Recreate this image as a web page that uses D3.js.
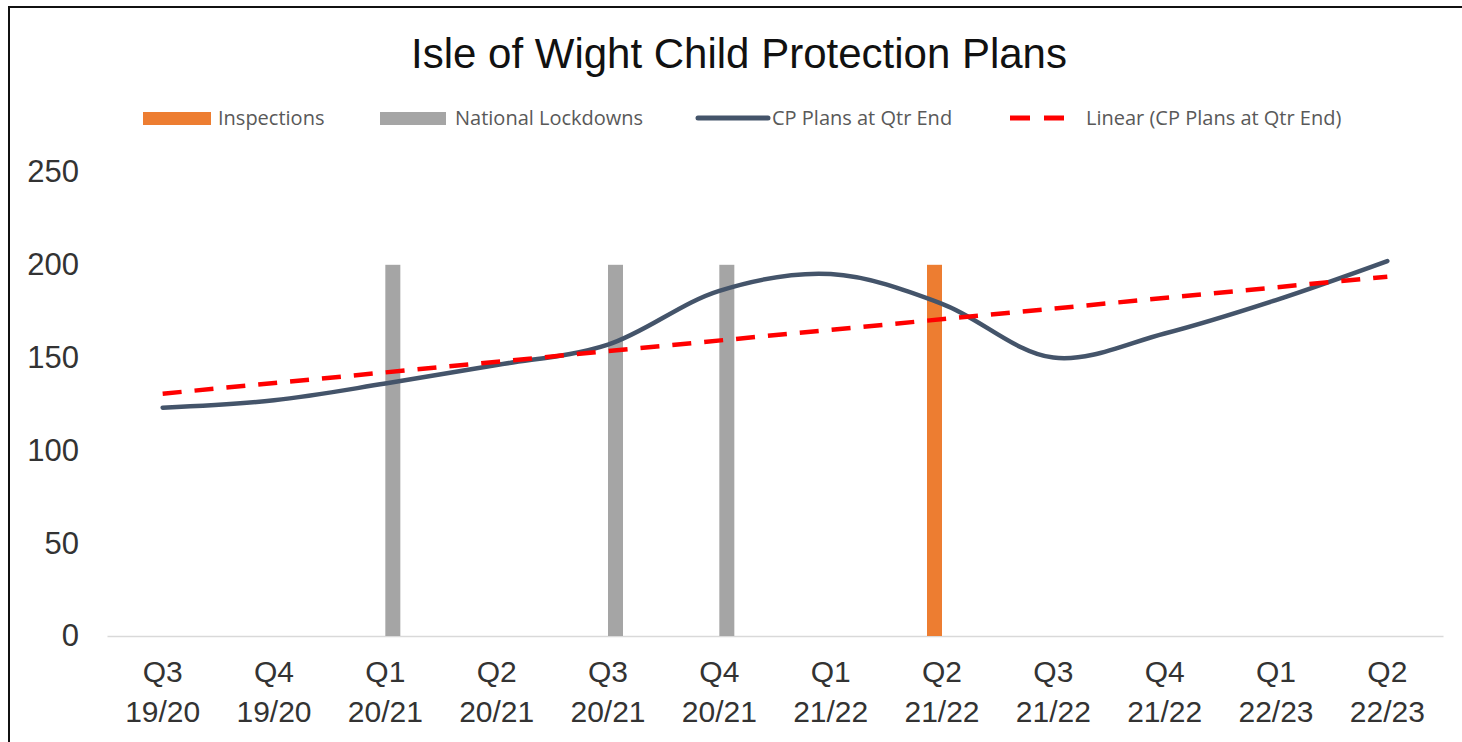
<html>

<head>
  <meta charset="UTF-8">
  <title>Isle of Wight Child Protection Plans</title>
  <script src="https://d3js.org/d3.v7.min.js"></script>
  <style>
    body {
      margin: 0;
      background-color: white;
    }
    svg {
      display: block;
    }
  </style>
</head>

<body>
  <svg></svg>
</body>

<script>
  let width = 1462,
    height = 742;

  // data
  let quarters = ["Q3", "Q4", "Q1", "Q2", "Q3", "Q4", "Q1", "Q2", "Q3", "Q4", "Q1", "Q2"];
  let years = ["19/20", "19/20", "20/21", "20/21", "20/21", "20/21", "21/22", "21/22", "21/22", "21/22", "22/23", "22/23"];
  let cpPlans = [123, 127, 136, 146, 157, 186, 195, 179, 150, 163, 181, 202];
  let inspections = [0, 0, 0, 0, 0, 0, 0, 200, 0, 0, 0, 0];
  let lockdowns = [0, 0, 200, 0, 200, 200, 0, 0, 0, 0, 0, 0];
  let yTicks = [0, 50, 100, 150, 200, 250];

  let categories = quarters.map((q, i) => q + " " + years[i]);

  let svg = d3.select("svg")
    .attr("width", width)
    .attr("height", height);

  // outer frame
  svg.append("rect")
    .attr("x", 9)
    .attr("y", 7)
    .attr("width", width + 20)
    .attr("height", height + 20)
    .attr("fill", "white")
    .attr("stroke", "#111")
    .attr("stroke-width", 2);

  let x = d3.scaleBand()
    .domain(categories)
    .range([107, 1443]);

  let x1 = d3.scaleBand()
    .domain(["Inspections", "National Lockdowns"])
    .range([x.bandwidth() / 2 - 15, x.bandwidth() / 2 + 15]);

  let y = d3.scaleLinear()
    .domain([0, 250])
    .range([636, 172]);

  // title
  svg.append("text")
    .attr("x", 739)
    .attr("y", 68)
    .attr("text-anchor", "middle")
    .style("font-family", "Liberation Sans, Arial, sans-serif")
    .style("font-size", "42px")
    .style("fill", "#111")
    .text("Isle of Wight Child Protection Plans");

  // y axis
  let yAxis = svg.append("g")
    .attr("transform", "translate(82,0)")
    .call(d3.axisLeft(y).tickValues(yTicks).tickSize(0).tickPadding(3));
  yAxis.select(".domain").remove();
  yAxis.selectAll("text")
    .style("font-family", "Liberation Sans, Arial, sans-serif")
    .style("font-size", "31px")
    .style("fill", "#333");

  // x axis
  let xAxis = svg.append("g")
    .attr("transform", "translate(0," + y(0) + ")")
    .call(d3.axisBottom(x).tickSize(0).tickFormat(""));
  xAxis.select(".domain")
    .attr("stroke", "#d9d9d9")
    .attr("stroke-width", 1.5);

  let xLabels = svg.append("g")
    .selectAll("text")
    .data(categories)
    .enter()
    .append("text")
    .attr("text-anchor", "middle")
    .style("font-family", "Liberation Sans, Arial, sans-serif")
    .style("font-size", "30px")
    .style("fill", "#333");
  xLabels.append("tspan")
    .attr("x", d => x(d) + x.bandwidth() / 2)
    .attr("y", 682)
    .text((d, i) => quarters[i]);
  xLabels.append("tspan")
    .attr("x", d => x(d) + x.bandwidth() / 2)
    .attr("y", 722)
    .text((d, i) => years[i]);

  // bars
  let barData = [];
  categories.forEach((c, i) => {
    barData.push({ cat: c, series: "Inspections", value: inspections[i] });
    barData.push({ cat: c, series: "National Lockdowns", value: lockdowns[i] });
  });

  let color = d3.scaleOrdinal()
    .domain(["Inspections", "National Lockdowns"])
    .range(["#ed7d31", "#a5a5a5"]);

  svg.append("g")
    .selectAll("rect")
    .data(barData.filter(d => d.value > 0))
    .enter()
    .append("rect")
    .attr("x", d => x(d.cat) + x1(d.series))
    .attr("width", x1.bandwidth())
    .attr("y", d => y(d.value))
    .attr("height", d => y(0) - y(d.value))
    .attr("fill", d => color(d.series));

  // linear trend (least squares, as Excel does)
  let n = cpPlans.length;
  let mx = d3.mean(cpPlans, (d, i) => i);
  let my = d3.mean(cpPlans);
  let sxy = d3.sum(cpPlans, (d, i) => (i - mx) * (d - my));
  let sxx = d3.sum(cpPlans, (d, i) => (i - mx) * (i - mx));
  let slope = sxy / sxx;
  let intercept = my - slope * mx;

  let cx = i => x(categories[i]) + x.bandwidth() / 2;

  let line = d3.line()
    .x((d, i) => cx(i))
    .y(d => y(d))
    .curve(d3.curveCatmullRom.alpha(0.5));

  svg.append("path")
    .datum(cpPlans)
    .attr("d", line)
    .attr("fill", "none")
    .attr("stroke", "#44546a")
    .attr("stroke-width", 4.5)
    .attr("stroke-linecap", "round");

  svg.append("line")
    .attr("x1", cx(0))
    .attr("y1", y(intercept))
    .attr("x2", cx(n - 1))
    .attr("y2", y(intercept + slope * (n - 1)))
    .attr("stroke", "#ff0000")
    .attr("stroke-width", 4.5)
    .attr("stroke-dasharray", "19,13");

  // legend
  let legend = svg.append("g");
  let legendFont = g => g
    .style("font-family", "Open Sans, sans-serif")
    .style("font-size", "20px")
    .style("fill", "#595959");

  legend.append("rect").attr("x", 143).attr("y", 112).attr("width", 68).attr("height", 13).attr("fill", color("Inspections"));
  legend.append("text").attr("x", 218).attr("y", 125).text("Inspections").call(legendFont);

  legend.append("rect").attr("x", 380).attr("y", 112).attr("width", 66).attr("height", 13).attr("fill", color("National Lockdowns"));
  legend.append("text").attr("x", 455).attr("y", 125).text("National Lockdowns").call(legendFont);

  legend.append("line").attr("x1", 698).attr("x2", 768).attr("y1", 118).attr("y2", 118)
    .attr("stroke", "#44546a").attr("stroke-width", 5).attr("stroke-linecap", "round");
  legend.append("text").attr("x", 772).attr("y", 125).text("CP Plans at Qtr End").call(legendFont);

  legend.append("line").attr("x1", 1010).attr("x2", 1066).attr("y1", 118).attr("y2", 118)
    .attr("stroke", "#ff0000").attr("stroke-width", 5).attr("stroke-dasharray", "20,14");
  legend.append("text").attr("x", 1086).attr("y", 125).text("Linear (CP Plans at Qtr End)").call(legendFont);
</script>
</html>
